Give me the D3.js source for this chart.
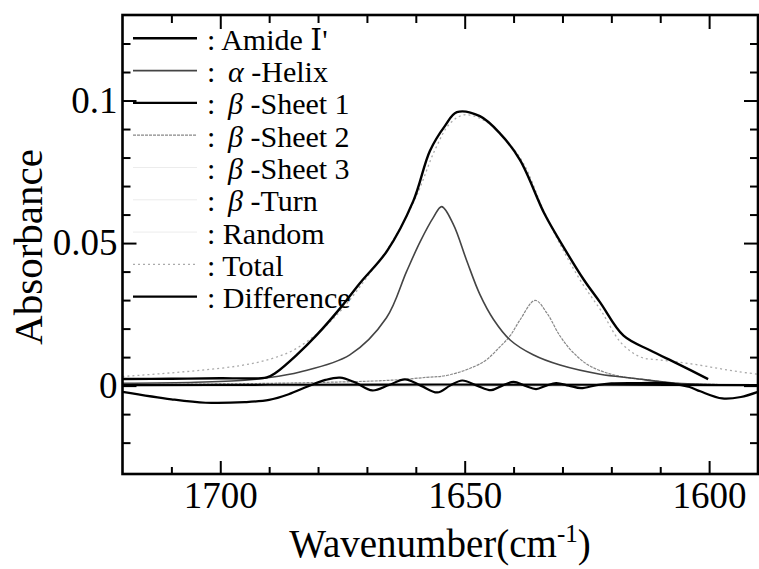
<!DOCTYPE html>
<html>
<head>
<meta charset="utf-8">
<script src="https://cdn.jsdelivr.net/npm/d3@7"></script>
<style>
  html, body { margin: 0; padding: 0; background: #fff; }
  svg { display: block; font-family: "Liberation Serif", "DejaVu Serif", "Times New Roman", serif; }
</style>
</head>
<body>
<svg class="spectrum" width="759" height="569"></svg>
<script>
// [wavenumber cm-1, absorbance]
const amide = [
  [1720, 0.0023], [1710, 0.0024], [1700, 0.0026], [1690.5, 0.0029], [1688.5, 0.0047],
  [1684.4, 0.0107], [1680.3, 0.0177], [1675.5, 0.0271], [1671.4, 0.0360], [1665.9, 0.0472],
  [1660.5, 0.0648], [1657.1, 0.0824], [1654, 0.0912], [1651.6, 0.0959], [1646.9, 0.0945],
  [1642.8, 0.0885], [1638.7, 0.0792], [1633.6, 0.0600], [1629.5, 0.0478], [1625.7, 0.0373],
  [1622.3, 0.0292], [1617.5, 0.0175], [1612.1, 0.0124], [1606.6, 0.0078], [1600.2, 0.0023]
];
const helix = [
  [1720, 0.0008], [1705, 0.0012], [1695, 0.0019], [1690.5, 0.0027], [1683.7, 0.0048],
  [1673.5, 0.0108], [1666, 0.0238], [1661.9, 0.0400], [1659.1, 0.0505], [1656.4, 0.0590],
  [1654.7, 0.0628], [1652.3, 0.0565], [1649.6, 0.0439], [1646.9, 0.0320], [1644.1, 0.0232],
  [1640.7, 0.0160], [1636, 0.0108], [1630.5, 0.0072], [1622.3, 0.0040], [1615.6, 0.0026],
  [1606.6, 0.0008], [1600, 0.0004], [1590, 0.0002]
];
const sheet1 = [[1720, 0.0002], [1690, 0.0003], [1655, 0.0004], [1620, 0.0003], [1590, 0.0002]];
const sheet2 = [
  [1720, 0.0003], [1700, 0.0006], [1690, 0.0008], [1675, 0.0013], [1665, 0.0019],
  [1657.8, 0.0029], [1653, 0.0038], [1646.2, 0.0083], [1642.8, 0.0136], [1640.7, 0.0175],
  [1638.7, 0.0230], [1635.6, 0.0299], [1633.2, 0.0255], [1630.5, 0.0174], [1627.8, 0.0116],
  [1624.4, 0.0069], [1618.9, 0.0035], [1612.1, 0.0019], [1606.6, 0.0008], [1598, 0.0004],
  [1590, 0.0003]
];
const sheet3 = [[1720, 0.0001], [1655, 0.0002], [1590, 0.0001]];
const turn = [[1720, 0.0001], [1655, 0.0002], [1590, 0.0001]];
const random = [[1720, 0.0001], [1655, 0.0002], [1590, 0.0001]];
const total = [
  [1720, 0.0032], [1712, 0.0042], [1704, 0.0054], [1696, 0.0070], [1690, 0.0092],
  [1685, 0.0125], [1680, 0.0185], [1675, 0.0270], [1670, 0.0380], [1665, 0.0500],
  [1660, 0.0660], [1656, 0.0830], [1653, 0.0920], [1650, 0.0950], [1646, 0.0930],
  [1642, 0.0870], [1638, 0.0780], [1634, 0.0620], [1630, 0.0480], [1626, 0.0360],
  [1622, 0.0260], [1618, 0.0150], [1614, 0.0100], [1610, 0.0090], [1606, 0.0082],
  [1602, 0.0072], [1598, 0.0060], [1594, 0.0049], [1590, 0.0040]
];
const difference = [
  [1720, -0.0022], [1710, -0.0048], [1703, -0.0060], [1695, -0.0058], [1690, -0.0050],
  [1686, -0.0030], [1682, -0.0002], [1678.5, 0.0020], [1675.5, 0.0028], [1672.5, 0.0012],
  [1668.9, -0.0017], [1665.5, 0.0002], [1662.2, 0.0022], [1659, 0.0000], [1655.6, -0.0024],
  [1653, 0.0000], [1650.5, 0.0018], [1647.5, 0.0000], [1644.6, -0.0016], [1642.3, 0.0000],
  [1640, 0.0013], [1637.7, 0.0000], [1635.4, -0.0012], [1633.3, 0.0000], [1631.3, 0.0009],
  [1628.7, 0.0000], [1626.2, -0.0009], [1623, 0.0002], [1620, 0.0008], [1614, 0.0009],
  [1608, 0.0008], [1604, -0.0005], [1601.8, -0.0020], [1597.3, -0.0045], [1593.5, -0.0040],
  [1590, -0.0022]
];

const seriesNames = ["Amide \u2160'", "-Helix", "-Sheet 1", "-Sheet 2", "-Sheet 3", "-Turn", "Random", "Total", "Difference"];
const seriesGreek = ["", "\u03b1", "\u03b2", "\u03b2", "\u03b2", "\u03b2", "", "", ""];
const seriesData = [amide, helix, sheet1, sheet2, sheet3, turn, random, total, difference];

const xMajor = [1700, 1650, 1600];
const xMinor = [1710, 1690, 1680, 1670, 1660, 1640, 1630, 1620, 1610];
const yMajor = [0, 0.05, 0.1];
const yMinor = [-0.02, -0.01, 0.01, 0.02, 0.03, 0.04, 0.06, 0.07, 0.08, 0.09, 0.11, 0.12];

// line looks for each series, same order as the names
const styles = [
  { color: '#000', width: 2.4, dash: null },
  { color: '#444', width: 1.6, dash: null },
  { color: '#000', width: 2.2, dash: null },
  { color: '#888', width: 1.2, dash: '3,1' },
  { color: '#ececec', width: 1, dash: null },
  { color: '#ececec', width: 1, dash: null },
  { color: '#ececec', width: 1, dash: null },
  { color: '#aaa', width: 1.3, dash: '2,3' },
  { color: '#000', width: 2.2, dash: null }
];

const svg = d3.select('.spectrum');
const margin = { left: 122.5, right: 758, top: 15, bottom: 474 };

const x = d3.scaleLinear().domain([1720, 1590]).range([margin.left, margin.right]);
const y = d3.scaleLinear().domain([-0.031, 0.13]).range([margin.bottom, margin.top]);

svg.append('rect').attr('width', 759).attr('height', 569).attr('fill', '#fff');

const plot = svg.append('g');

// zero line
plot.append('line')
  .attr('x1', x(1720)).attr('x2', x(1590))
  .attr('y1', y(0)).attr('y2', y(0))
  .attr('stroke', '#000').attr('stroke-width', 1);

const line = d3.line()
  .x(d => x(d[0]))
  .y(d => y(d[1]))
  .curve(d3.curveCatmullRom.alpha(0.5));

// faint ones first, strong ones on top
const drawOrder = [4, 5, 6, 7, 3, 1, 2, 0, 8];
drawOrder.forEach(i => {
  plot.append('path')
    .datum(seriesData[i])
    .attr('fill', 'none')
    .attr('stroke', styles[i].color)
    .attr('stroke-width', styles[i].width)
    .attr('stroke-dasharray', styles[i].dash)
    .attr('stroke-linejoin', 'round')
    .attr('d', line);
});

// axes: ticks point inwards on all four sides
function styleAxis(g) {
  g.select('.domain').remove();
  g.selectAll('.tick line').attr('stroke', '#000').attr('stroke-width', 2);
  g.selectAll('.tick text')
    .attr('fill', '#000')
    .style('font-family', '"Liberation Serif", "DejaVu Serif", "Times New Roman", serif')
    .style('font-size', '37px');
}

svg.append('g').attr('transform', `translate(0,${margin.bottom})`)
  .call(d3.axisBottom(x).tickValues(xMajor).tickSize(-13).tickPadding(8).tickFormat(d3.format('d')))
  .call(styleAxis);
svg.append('g').attr('transform', `translate(0,${margin.bottom})`)
  .call(d3.axisBottom(x).tickValues(xMinor).tickSize(-7).tickFormat(''))
  .call(styleAxis);
svg.append('g').attr('transform', `translate(0,${margin.top})`)
  .call(d3.axisTop(x).tickValues(xMajor).tickSize(-14).tickFormat(''))
  .call(styleAxis);
svg.append('g').attr('transform', `translate(0,${margin.top})`)
  .call(d3.axisTop(x).tickValues(xMinor).tickSize(-8).tickFormat(''))
  .call(styleAxis);

svg.append('g').attr('transform', `translate(${margin.left},0)`)
  .call(d3.axisLeft(y).tickValues(yMajor).tickSize(-14).tickPadding(5).tickFormat(d => d === 0 ? '0' : String(d)))
  .call(styleAxis);
svg.append('g').attr('transform', `translate(${margin.left},0)`)
  .call(d3.axisLeft(y).tickValues(yMinor).tickSize(-8).tickFormat(''))
  .call(styleAxis);
svg.append('g').attr('transform', `translate(${margin.right},0)`)
  .call(d3.axisRight(y).tickValues(yMajor).tickSize(-14).tickFormat(''))
  .call(styleAxis);
svg.append('g').attr('transform', `translate(${margin.right},0)`)
  .call(d3.axisRight(y).tickValues(yMinor).tickSize(-8).tickFormat(''))
  .call(styleAxis);

// frame
svg.append('rect')
  .attr('x', margin.left).attr('y', margin.top)
  .attr('width', margin.right - margin.left).attr('height', margin.bottom - margin.top)
  .attr('fill', 'none').attr('stroke', '#000').attr('stroke-width', 2.6);

// legend
const legend = svg.append('g');
seriesNames.forEach((name, i) => {
  const ly = 38.3 + i * 32.3;
  legend.append('line')
    .attr('x1', 133).attr('x2', 197)
    .attr('y1', ly).attr('y2', ly)
    .attr('stroke', styles[i].color)
    .attr('stroke-width', styles[i].width)
    .attr('stroke-dasharray', styles[i].dash);
  const t = legend.append('text')
    .attr('x', 207).attr('y', ly + 11.5)
    .style('font-size', '30px')
    .attr('fill', '#000');
  if (seriesGreek[i]) {
    t.append('tspan').text(':');
    t.append('tspan').attr('x', 228).style('font-style', 'italic').text(seriesGreek[i]);
    t.append('tspan').text(' ' + name);
  } else {
    t.text(': ' + name);
  }
});

// axis titles
svg.append('text')
  .attr('transform', 'translate(42,247) rotate(-90)')
  .attr('text-anchor', 'middle')
  .style('font-size', '41px')
  .text('Absorbance');

const xt = svg.append('text')
  .attr('x', 440).attr('y', 557)
  .attr('text-anchor', 'middle')
  .style('font-size', '39px');
xt.append('tspan').text('Wavenumber(cm');
xt.append('tspan').attr('dy', -15).style('font-size', '25px').text('-1');
xt.append('tspan').attr('dy', 15).text(')');
</script>
</body>
</html>
